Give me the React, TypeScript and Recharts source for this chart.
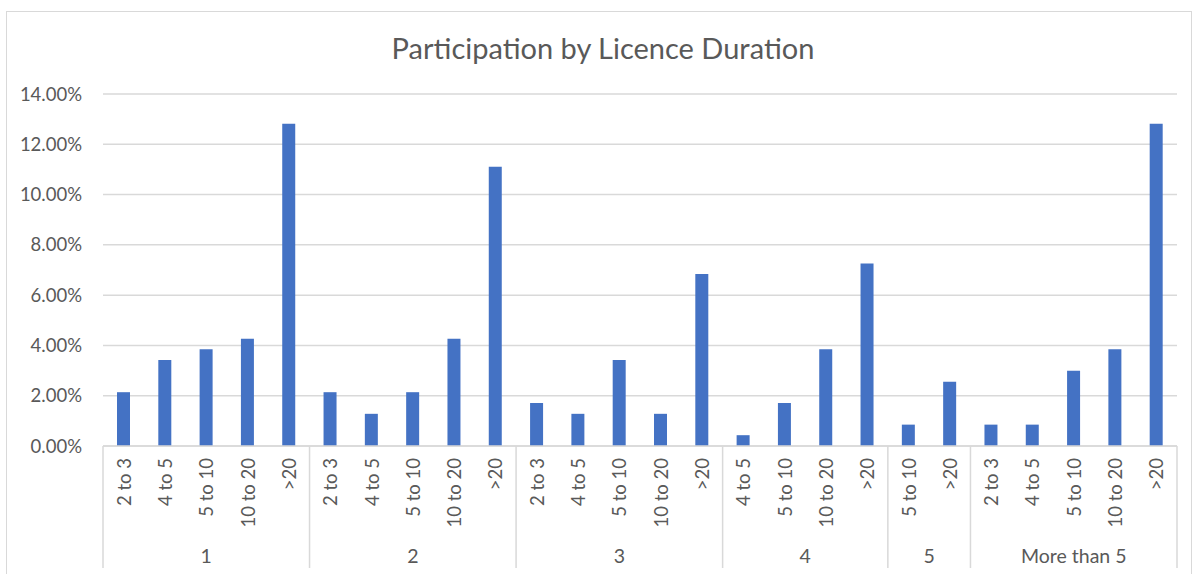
import React from 'react';
import { BarChart, Bar, XAxis, YAxis, CartesianGrid } from 'recharts';

const groupLabels = ['1', '2', '3', '4', '5', 'More than 5'];
const durationLabels = [
  '2 to 3', '4 to 5', '5 to 10', '10 to 20', '>20',
  '2 to 3', '4 to 5', '5 to 10', '10 to 20', '>20',
  '2 to 3', '4 to 5', '5 to 10', '10 to 20', '>20',
  '4 to 5', '5 to 10', '10 to 20', '>20',
  '5 to 10', '>20',
  '2 to 3', '4 to 5', '5 to 10', '10 to 20', '>20',
];
const groupOfDuration = [0, 0, 0, 0, 0, 1, 1, 1, 1, 1, 2, 2, 2, 2, 2, 3, 3, 3, 3, 4, 4, 5, 5, 5, 5, 5];
const participation = [
  2.14, 3.42, 3.85, 4.27, 12.82,
  2.14, 1.28, 2.14, 4.27, 11.11,
  1.71, 1.28, 3.42, 1.28, 6.84,
  0.43, 1.71, 3.85, 7.26,
  0.85, 2.56,
  0.85, 0.85, 2.99, 3.85, 12.82,
];
const yTicks = [0, 2, 4, 6, 8, 10, 12, 14];

const data = durationLabels.map((d, i) => ({
  key: String(i),
  duration: d,
  group: groupLabels[groupOfDuration[i]],
  value: participation[i],
}));

const FONT = 'Lato, "Open Sans", sans-serif';
const TEXT = '#595959';
const GRID = '#d9d9d9';

const CategoryTick = (props: any) => {
  const { x, y, payload, width, visibleTicksCount } = props;
  const i = Number(payload.value);
  const count = visibleTicksCount || data.length;
  const band = (width || 1074) / count;
  const half = band / 2;
  const g = groupOfDuration[i];
  const first = i === 0 || groupOfDuration[i - 1] !== g;
  const last = i === data.length - 1;
  const size = groupOfDuration.filter((v) => v === g).length;
  return (
    <g>
      <text
        transform={`translate(${x},${y + 12}) rotate(-90)`}
        textAnchor="end"
        dominantBaseline="central"
        fill={TEXT}
        fontSize={18.5}
        fontFamily={FONT}
      >
        {durationLabels[i]}
      </text>
      {first && (
        <line x1={x - half} x2={x - half} y1={y} y2={y + 122} stroke={GRID} strokeWidth={1.5} />
      )}
      {last && (
        <line x1={x + half} x2={x + half} y1={y} y2={y + 122} stroke={GRID} strokeWidth={1.5} />
      )}
      {first && (
        <text
          x={x - half + (size * band) / 2}
          y={y + 109}
          textAnchor="middle"
          dominantBaseline="central"
          fill={TEXT}
          fontSize={19.5}
          fontFamily={FONT}
        >
          {groupLabels[g]}
        </text>
      )}
    </g>
  );
};

export default function App() {
  return (
    <div style={{ position: 'absolute', left: 0, top: 0, width: 1194, height: 574, overflow: 'hidden', background: '#fff' }}>
      <div
        style={{
          position: 'absolute',
          left: 6,
          top: 11,
          width: 1186,
          height: 620,
          border: `1px solid ${GRID}`,
          boxSizing: 'border-box',
        }}
      />
      <div
        style={{
          position: 'absolute',
          left: 0,
          top: 30,
          width: 1206,
          textAlign: 'center',
          fontFamily: FONT,
          fontSize: 29,
          color: TEXT,
          lineHeight: '36px',
        }}
      >
        Participation by Licence Duration
      </div>
      <div style={{ position: 'absolute', left: 0, top: 0 }}>
        <BarChart
          width={1194}
          height={574}
          data={data}
          margin={{ top: 94, right: 17, bottom: 0, left: 0 }}
        >
          <CartesianGrid vertical={false} stroke={GRID} strokeWidth={1.5} />
          <XAxis
            dataKey="key"
            interval={0}
            height={128}
            tickLine={false}
            tickSize={0}
            tickMargin={0}
            axisLine={{ stroke: GRID, strokeWidth: 1.5 }}
            tick={<CategoryTick />}
          />
          <YAxis
            width={103}
            domain={[0, 14]}
            ticks={yTicks}
            interval={0}
            axisLine={false}
            tickLine={false}
            tickSize={0}
            tickMargin={21}
            tick={{ fill: TEXT, fontSize: 18.5, fontFamily: FONT }}
            tickFormatter={(v: number) => `${v.toFixed(2)}%`}
          />
          <Bar dataKey="value" fill="#4472C4" barSize={13} isAnimationActive={false} />
        </BarChart>
      </div>
    </div>
  );
}
